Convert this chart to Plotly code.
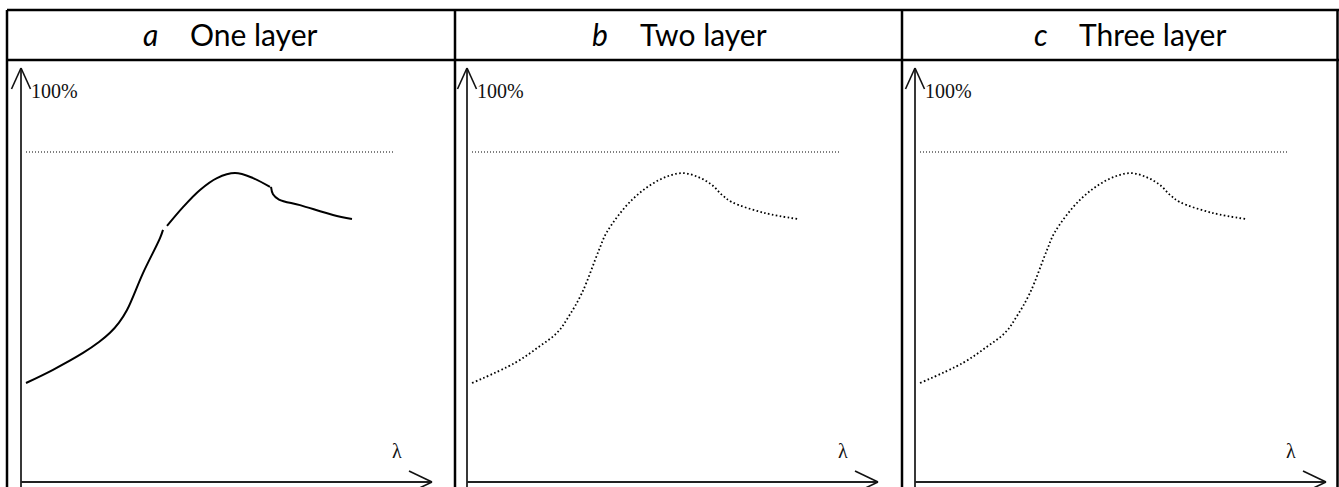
import plotly.graph_objects as go

W, H = 1339, 487

# ---- data (λ in arbitrary units, transmittance in %) ----
panel_letters = ["a", "b", "c"]
panel_titles = ["One layer", "Two layer", "Three layer"]

one_layer_lambda = [1.25, 8.0, 15.5, 19.5, 22.25, 24.5, 26.5, 30.5, 34.75, 35.5, None,
                    36.5, 40.5, 44.75, 49.0, 53.5, 58.0, 62.25, None,
                    62.5, 63.0, 64.5, 69.75, 78.0, 82.75]
one_layer_T = [30.0, 34.0, 39.1, 42.4, 45.2, 48.3, 52.1, 63.3, 73.9, 76.4, None,
               77.6, 83.3, 88.5, 92.1, 93.6, 92.1, 89.4, None,
               89.4, 87.2, 85.6, 83.9, 80.9, 79.7]

two_layer_lambda = [1.25, 12.0, 18.0, 22.5, 25.5, 28.75, 33.0, 35.0, 41.25, 48.0, 53.75,
                    58.0, 61.25, 63.75, 66.25, 74.5, 82.75]
two_layer_T = [30.0, 36.1, 41.0, 45.2, 50.3, 57.3, 70.3, 75.8, 85.5, 91.5, 93.6,
               92.3, 90.0, 87.0, 84.8, 81.5, 79.7]

three_layer_lambda = [1.25, 12.0, 18.0, 22.5, 25.5, 28.75, 33.0, 35.0, 41.25, 48.0, 53.75,
                      58.0, 61.25, 63.75, 66.25, 74.5, 82.75]
three_layer_T = [30.0, 36.1, 41.0, 45.2, 50.3, 57.3, 70.3, 75.8, 85.5, 91.5, 93.6,
                 92.3, 90.0, 87.0, 84.8, 81.5, 79.7]

reference_lambda = [1.25, 93.0]
reference_T = [100, 100]

y_label = "100%"
x_label = "λ"

# ---- layout geometry (pixels) ----
origins = [21, 467, 915]
x_len = 411
y_bottom, y_top = 482, 68
x_range = [0, 102.75]
y_range = [0, 125.45]


def px(x):
    return x / W


def py(y):
    return 1 - y / H


fig = go.Figure()

series = [
    (one_layer_lambda, one_layer_T, dict(color="#000", width=2)),
    (two_layer_lambda, two_layer_T, dict(color="#000", width=1.8, dash="1.6px,2.4px")),
    (three_layer_lambda, three_layer_T, dict(color="#000", width=1.8, dash="1.6px,2.4px")),
]

for i, (lx, ty, ln) in enumerate(series):
    ax = "" if i == 0 else str(i + 1)
    fig.add_trace(go.Scatter(x=reference_lambda, y=reference_T, mode="lines",
                             line=dict(color="#000", width=1.2, dash="1px,2px"),
                             xaxis="x" + ax, yaxis="y" + ax, hoverinfo="skip",
                             showlegend=False))
    fig.add_trace(go.Scatter(x=lx, y=ty, mode="lines", connectgaps=False,
                             line=dict(shape="spline", smoothing=1.0, **ln),
                             xaxis="x" + ax, yaxis="y" + ax, showlegend=False))
    o = origins[i]
    fig.update_layout({
        "xaxis" + ax: dict(domain=[px(o), px(o + x_len)], range=x_range,
                           visible=False, anchor="y" + ax, fixedrange=True),
        "yaxis" + ax: dict(domain=[py(y_bottom), py(y_top)], range=y_range,
                           visible=False, anchor="x" + ax, fixedrange=True),
    })
    fig.add_annotation(x=2.0, y=118.5, xref="x" + ax, yref="y" + ax,
                       text=y_label, showarrow=False, xanchor="left",
                       yanchor="middle",
                       font=dict(family="Liberation Serif", size=20, color="#111"))
    fig.add_annotation(x=94, y=9.3, xref="x" + ax, yref="y" + ax,
                       text=x_label, showarrow=False, xanchor="center",
                       yanchor="middle",
                       font=dict(family="Liberation Serif", size=20, color="#111"))

shapes = []


def seg(x0, y0, x1, y1, width=2.5, color="black"):
    shapes.append(dict(type="line", xref="paper", yref="paper",
                       x0=px(x0), y0=py(y0), x1=px(x1), y1=py(y1),
                       line=dict(color=color, width=width)))


# table borders
seg(7, 10, W, 10)
seg(7, 60, W, 60)
for xv in [7, 455, 902, 1337.5]:
    seg(xv, 10, xv, H + 2)

# axes with open arrowheads
for o in origins:
    seg(o, y_top, o, H + 2, width=1.8, color="#222")
    seg(o, y_top, o - 9.5, y_top + 21, width=1.6, color="#111")
    seg(o, y_top, o + 9.5, y_top + 21, width=1.6, color="#111")
    seg(o, y_bottom, o + x_len, y_bottom, width=1.8, color="#222")
    seg(o + x_len, y_bottom, o + x_len - 23, y_bottom - 11, width=1.6, color="#111")
    seg(o + x_len, y_bottom, o + x_len - 23, y_bottom + 11, width=1.6, color="#111")

fig.update_layout(shapes=shapes)

# header texts
letter_centers = [150, 600, 1041]
title_starts = [188, 638, 1077]
for letter, title, lc, ts in zip(panel_letters, panel_titles, letter_centers, title_starts):
    fig.add_annotation(x=px(lc), y=py(34), xref="paper", yref="paper",
                       text="<i>" + letter + "</i>", showarrow=False,
                       xanchor="center", yanchor="middle",
                       font=dict(family="Lato", size=30, color="black"))
    fig.add_annotation(x=px(ts), y=py(34), xref="paper", yref="paper",
                       text=title, showarrow=False,
                       xanchor="left", yanchor="middle",
                       font=dict(family="Lato", size=30, color="black"))

fig.update_layout(width=W, height=H, margin=dict(l=0, r=0, t=0, b=0),
                  paper_bgcolor="white", plot_bgcolor="white")

fig.write_html("out.html", config={"displayModeBar": False},
               post_script="document.body.style.margin='0';"
                           "document.body.style.overflow='hidden';")
